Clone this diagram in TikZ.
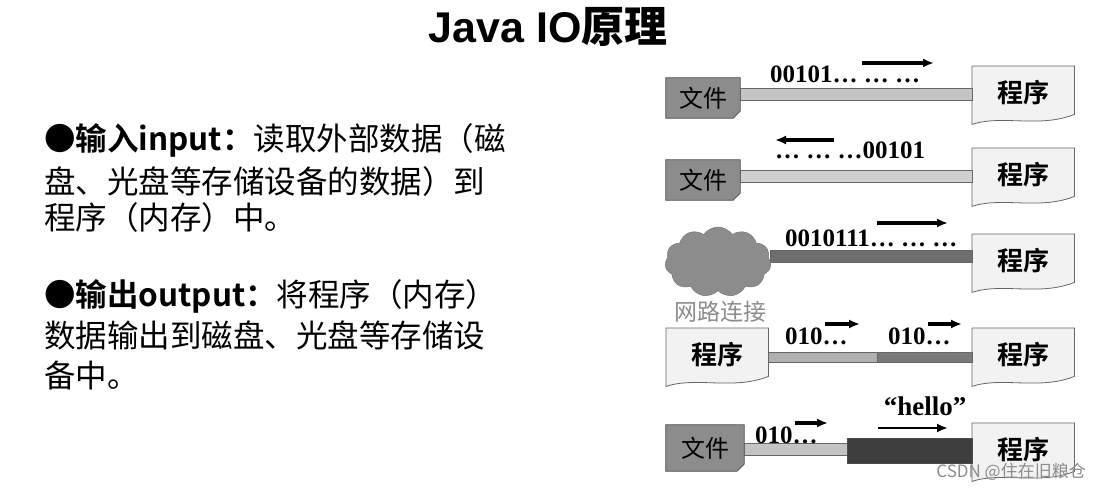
\documentclass[tikz,border=0pt]{standalone}
\usepackage{fontspec}
\setmainfont{Liberation Serif}
\newfontfamily\cjk{Noto Sans CJK SC}
\newfontfamily\cjkb{Noto Sans CJK SC Bold}
\newfontfamily\hsans{Liberation Sans}
\usetikzlibrary{shapes.symbols,backgrounds,calc,arrows.meta}
\definecolor{fdark}{HTML}{8C8C8C}
\definecolor{plight}{HTML}{F2F2F2}
\definecolor{blight}{HTML}{C4C4C4}
\definecolor{bmid}{HTML}{7A7A7A}
\definecolor{bdark}{HTML}{3E3E3E}
\tikzset{
  x=1pt,y=-1pt,
  filebox/.style={minimum width=74pt,minimum height=40pt,inner sep=0pt,font=\cjk\fontsize{24}{24}\selectfont},
  progbox/.style={minimum width=102pt,minimum height=52pt,inner sep=0pt,anchor=north west,font=\cjkb\fontsize{26}{26}\selectfont},
  lbl/.style={font=\bfseries\fontsize{25}{25}\selectfont,inner sep=0pt},
  dataarr/.style={-{Latex[length=11pt,width=9pt]},line width=3.6pt},
  body/.style={anchor=west,inner sep=0pt,font=\cjk\fontsize{31.5}{31.5}\selectfont},
}
\newcommand\progshape[1]{%
  \filldraw[fill=plight,draw=black!60,line width=0.8pt] (#1.north west) -- (#1.north east) -- ($(#1.south east)+(0,-4)$)
   .. controls +(-35,14) and +(30,-10) .. ($(#1.south west)+(0,6)$) -- cycle;}
\newcommand\fileshape[1]{%
  \filldraw[fill=fdark,draw=black!70,line width=0.8pt] (#1.north west) -- (#1.north east) -- ($(#1.south east)+(0,-7)$)
   -- ($(#1.south east)+(-7,0)$) -- (#1.south west) -- cycle;}
\begin{document}
\begin{tikzpicture}
\useasboundingbox (0,0) rectangle (1100,493);
% title
\node[inner sep=0pt] (title) at (548,27) {\hsans\bfseries\fontsize{43}{43}\selectfont Java IO\cjkb 原理};
% left text
\node[body] (t1) at (44,140) {\cjkb ●输入input：\cjk 读取外部数据（磁};
\node[body] (t2) at (44,182) {盘、光盘等存储设备的数据）到};
\node[body] (t3) at (44,218) {程序（内存）中。};
\node[body] (t4) at (44,296) {\cjkb ●输出output：\cjk 将程序（内存）};
\node[body] (t5) at (44,335) {数据输出到磁盘、光盘等存储设};
\node[body] (t6) at (44,375) {备中。};
% row 1
\node[filebox] (f1) at (703,98) {文件};
\node[progbox] (p1) at (972,66) {程序};
% row 2
\node[filebox] (f2) at (703,180) {文件};
\node[progbox] (p2) at (972,148) {程序};
% row 3
\node[cloud,cloud puffs=11,cloud puff arc=110,aspect=1.5,fill=black!45,draw=black!55,minimum width=106pt,minimum height=70pt,inner sep=0pt] (c3) at (718,262) {};
\node[progbox] (p3) at (972,234) {程序};
\node[inner sep=0pt,text=black!45,font=\cjk\fontsize{23}{23}\selectfont] (net) at (720,312) {网路连接};
% row 4
\node[progbox] (q4) at (666,328) {程序};
\node[progbox] (p4) at (972,328) {程序};
\coordinate (m4) at (877,357);
% row 5
\node[filebox,minimum width=78pt,minimum height=46pt] (f5) at (705,448) {文件};
\node[progbox] (p5) at (972,423) {程序};
\coordinate (m5) at (847,449);
\begin{scope}[on background layer]
  \fill[white] (0,0) rectangle (1100,493);
  \fileshape{f1}\progshape{p1}
  \filldraw[fill=blight,draw=black!60] (f1.east |- 0,88) rectangle (p1.west |- 0,100);
  \fileshape{f2}\progshape{p2}
  \filldraw[fill=blight!80,draw=black!60] (f2.east |- 0,170) rectangle (p2.west |- 0,182);
  \progshape{p3}
  \filldraw[fill=bmid!90!black,draw=black!60] (c3.east |- 0,250) rectangle (p3.west |- 0,262);
  \progshape{q4}\progshape{p4}
  \filldraw[fill=blight!90!black,draw=black!60] (q4.east |- 0,352) rectangle (m4 |- 0,362);
  \filldraw[fill=bmid,draw=black!60] (m4 |- 0,352) rectangle (p4.west |- 0,362);
  \fileshape{f5}\progshape{p5}
  \filldraw[fill=blight,draw=black!60] (f5.east |- 0,443) rectangle (m5 |- 0,455);
  \filldraw[fill=bdark,draw=black!70] (m5 |- 0,438) rectangle (p5.west |- 0,463);
\end{scope}
% labels and arrows
\node[lbl,anchor=west] (l1) at (770,74) {00101… … …};
\coordinate (a1s) at (862,63); \coordinate (a1e) at (934,63);
\draw[dataarr] (a1s) -- (a1e);
\node[lbl,anchor=west] (l2) at (775,150) {… … …00101};
\coordinate (a2s) at (834,140); \coordinate (a2e) at (775,140);
\draw[dataarr] (a2s) -- (a2e);
\node[lbl,anchor=west] (l3) at (785,238) {0010111… … …};
\coordinate (a3s) at (877,223); \coordinate (a3e) at (948,223);
\draw[dataarr] (a3s) -- (a3e);
\node[lbl,anchor=west] (l4a) at (785,336) {010…};
\coordinate (a4s) at (825,324); \coordinate (a4e) at (860,324);
\draw[dataarr] (a4s) -- (a4e);
\node[lbl,anchor=west] (l4b) at (888,336) {010…};
\coordinate (a4t) at (928,324); \coordinate (a4u) at (962,324);
\draw[dataarr] (a4t) -- (a4u);
\node[lbl,anchor=west] (l5a) at (755,435) {010…};
\coordinate (a5s) at (795,423); \coordinate (a5e) at (828,423);
\draw[dataarr] (a5s) -- (a5e);
\node[lbl,font=\bfseries\fontsize{27}{27}\selectfont] (l5b) at (925,406) {“hello”};
\coordinate (a5t) at (878,428); \coordinate (a5u) at (948,428);
\draw[dataarr,line width=2.2pt] (a5t) -- (a5u);
% watermark
\node[anchor=east,inner sep=0pt,text=black!45,font=\cjk\fontsize{17}{17}\selectfont] (wm) at (1086,472) {CSDN @住在旧粮仓};
\end{tikzpicture}
\end{document}
